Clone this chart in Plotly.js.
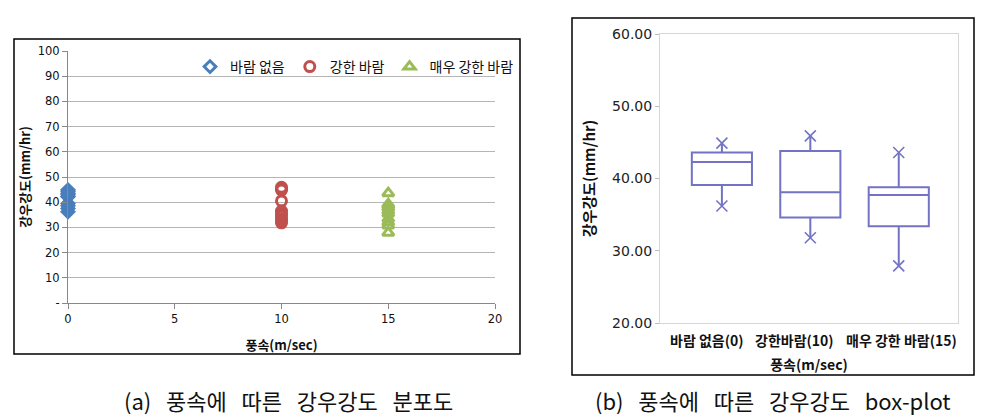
<!DOCTYPE html>
<html>
<head>
<meta charset="utf-8">
<script src="https://cdn.plot.ly/plotly-3.0.1.min.js"></script>
<style>html,body{margin:0;padding:0;background:#fff;}</style>
</head>
<body>
<div id="chart" style="width:992px;height:418px;"></div>
<script>
// ---- Panel (a): scatter data ----
const seriesNames = ['바람 없음', '강한 바람', '매우 강한 바람'];
const windSpeeds = [0, 10, 15];
const noWindValues = [36.2, 37.5, 38.6, 39.5, 42.2, 42.4, 43.2, 43.6, 44.3, 44.9];
const strongWindValues = [31.8, 32.6, 33.5, 34.6, 35.5, 36.5, 40.5, 44.8, 45.3, 45.9];
const veryStrongWindValues = [27.9, 30.8, 32.0, 33.4, 35.5, 36.5, 37.7, 38.5, 39.2, 43.6];
const yTickValues = [0, 10, 20, 30, 40, 50, 60, 70, 80, 90, 100];
const yTickLabels = ['-', '10', '20', '30', '40', '50', '60', '70', '80', '90', '100'];
const xTickValues = [0, 5, 10, 15, 20];

// ---- Panel (b): box-plot statistics ----
const boxCategories = ['바람 없음(0)', '강한바람(10)', '매우 강한 바람(15)'];
const boxMin = [36.2, 31.8, 27.9];
const boxQ1 = [39.1, 34.6, 33.4];
const boxMedian = [42.3, 38.1, 37.7];
const boxQ3 = [43.6, 43.8, 38.8];
const boxMax = [44.9, 45.9, 43.6];

const W = 992, H = 418;
const px = v => v / W;
const py = v => (H - v) / H;

const colors = ['#4a7ebb', '#c0504d', '#9bbb59'];
const symbols = ['diamond-open', 'circle-open', 'triangle-up-open'];
const allValues = [noWindValues, strongWindValues, veryStrongWindValues];

const traces = allValues.map((vals, i) => ({
  type: 'scatter', mode: 'markers', name: seriesNames[i],
  x: vals.map(() => windSpeeds[i]), y: vals,
  xaxis: 'x', yaxis: 'y', cliponaxis: false,
  marker: {symbol: symbols[i], size: i === 0 ? 9 : 10, color: colors[i],
           line: {color: colors[i], width: 3}}
}));

const boxColor = '#7373c6';
traces.push({
  type: 'box', name: 'box', showlegend: false,
  x: boxCategories, q1: boxQ1, median: boxMedian, q3: boxQ3,
  lowerfence: boxMin, upperfence: boxMax,
  xaxis: 'x2', yaxis: 'y2', boxpoints: false, whiskerwidth: 0, width: 0.68,
  line: {color: boxColor, width: 2}, fillcolor: 'rgba(255,255,255,0)',
  hoverinfo: 'skip'
});
traces.push({
  type: 'scatter', mode: 'markers', showlegend: false,
  x: boxCategories.concat(boxCategories), y: boxMax.concat(boxMin),
  xaxis: 'x2', yaxis: 'y2', cliponaxis: false,
  marker: {symbol: 'x-thin-open', size: 11, color: boxColor, line: {color: boxColor, width: 1.6}}
});

const tickFontA = {family: 'DejaVu Sans, Noto Sans CJK KR', size: 11.5, color: '#111'};
const titleFont = (s) => ({family: 'Noto Sans CJK KR', size: s, color: '#111', weight: 'bold'});
const gap = ' \u00a0\u00a0';
const captionA = ['(a)', '풍속에', '따른', '강우강도', '분포도'].join(gap);
const captionB = ['(b)', '풍속에', '따른', '강우강도', 'box-plot'].join(gap);

const layout = {
  width: W, height: H,
  margin: {l: 0, r: 0, t: 0, b: 0},
  paper_bgcolor: '#fff', plot_bgcolor: '#fff',
  showlegend: true,
  legend: {orientation: 'h', x: px(519), xanchor: 'right', y: py(67), yanchor: 'middle',
           bgcolor: 'rgba(0,0,0,0)', font: {family: 'Noto Sans CJK KR', size: 14, color: '#111'},
           itemwidth: 30, tracegroupgap: 0},
  xaxis: {domain: [px(68), px(495)], range: [0, 20], tickvals: xTickValues,
          ticks: 'outside', ticklen: 5, tickcolor: '#888', showline: true, linecolor: '#888',
          showgrid: false, zeroline: false, tickfont: tickFontA,
          title: {text: '풍속(m/sec)', font: titleFont(13), standoff: 16}},
  yaxis: {domain: [py(303), py(51)], range: [0, 100], tickvals: yTickValues, ticktext: yTickLabels,
          ticks: 'outside', ticklen: 5, tickcolor: '#888', showline: true, linecolor: '#888',
          gridcolor: '#b5b5b5', gridwidth: 1, zeroline: false, tickfont: tickFontA,
          title: {text: '강우강도(mm/hr)', font: titleFont(13), standoff: 4}},
  xaxis2: {domain: [px(660), px(958)], anchor: 'y2', type: 'category', range: [-0.7, 2.67],
           showticklabels: false, ticks: '', showline: true, mirror: true, linecolor: '#d6d6d6',
           showgrid: false, zeroline: false,
           title: {text: '풍속(m/sec)', font: titleFont(14), standoff: 37}},
  yaxis2: {domain: [py(323), py(34)], anchor: 'x2', range: [20, 60], dtick: 10, tick0: 20,
           tickformat: '.2f', ticks: 'outside', ticklen: 4, tickcolor: '#bbb',
           showline: true, mirror: true, linecolor: '#d6d6d6', showgrid: false, zeroline: false,
           tickfont: {family: 'DejaVu Sans', size: 14, color: '#222'},
           title: {text: '강우강도(mm/hr)', font: titleFont(15), standoff: 12}},
  shapes: [
    {type: 'rect', xref: 'paper', yref: 'paper', x0: px(14), x1: px(520), y0: py(354), y1: py(39),
     line: {color: '#000', width: 1.5}},
    {type: 'rect', xref: 'paper', yref: 'paper', x0: px(572), x1: px(974), y0: py(375), y1: py(18),
     line: {color: '#000', width: 1.5}}
  ],
  annotations: [
    {xref: 'paper', yref: 'paper', x: px(288), y: py(400), xanchor: 'center', yanchor: 'middle',
     text: captionA, showarrow: false,
     font: {family: 'Noto Sans CJK KR', size: 22, color: '#111'}},
    {xref: 'paper', yref: 'paper', x: px(773), y: py(400), xanchor: 'center', yanchor: 'middle',
     text: captionB, showarrow: false,
     font: {family: 'Noto Sans CJK KR', size: 22, color: '#111'}}
  ].concat(boxCategories.map((c, i) => ({
     xref: 'x2', yref: 'paper', x: c, y: py(340), xanchor: 'center', yanchor: 'middle',
     xshift: [-15, -16, 3][i], text: c, showarrow: false, font: titleFont(14)
  })))
};

Plotly.newPlot('chart', traces, layout, {displayModeBar: false, staticPlot: true});
</script>
</body>
</html>
